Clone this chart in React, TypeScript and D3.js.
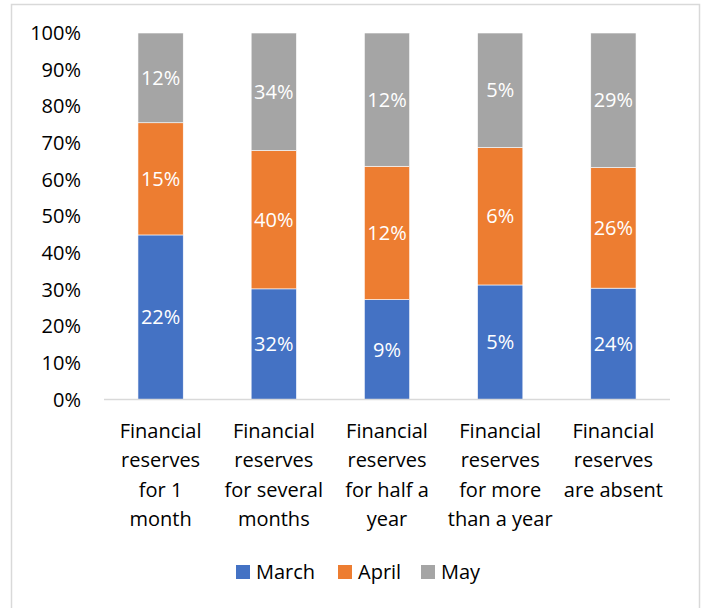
import React, { useEffect, useRef } from 'react';
import * as d3 from 'd3';

const categories = [
  ['Financial', 'reserves', 'for 1', 'month'],
  ['Financial', 'reserves', 'for several', 'months'],
  ['Financial', 'reserves', 'for half a', 'year'],
  ['Financial', 'reserves', 'for more', 'than a year'],
  ['Financial', 'reserves', 'are absent'],
];
const march = [22, 32, 9, 5, 24];
const april = [15, 40, 12, 6, 26];
const may = [12, 34, 12, 5, 29];
const seriesNames = ['March', 'April', 'May'];
const colors = ['#4472C4', '#ED7D31', '#A5A5A5'];
const yTicks = [0, 0.1, 0.2, 0.3, 0.4, 0.5, 0.6, 0.7, 0.8, 0.9, 1];

const App = () => {
  const width = 706,
    height = 608,
    margin = { left: 104, top: 33, bottom: 208.5, right: 36 };
  const svgRef = useRef<SVGSVGElement>(null);
  const font = "'Open Sans', sans-serif";
  const fs = 20;

  useEffect(() => {
    const svg = d3.select(svgRef.current);
    svg.selectAll('*').remove();

    const rows = categories.map((c, i) => ({ i, March: march[i], April: april[i], May: may[i] }));
    const stacked = d3.stack<any>().keys(seriesNames).offset(d3.stackOffsetExpand)(rows);

    const x = d3.scaleBand<number>()
      .domain(d3.range(categories.length))
      .range([margin.left, width - margin.right])
      .paddingInner(0.6).paddingOuter(0.3);
    const y = d3.scaleLinear().domain([0, 1]).range([height - margin.bottom, margin.top]);

    // chart border
    svg.append('rect')
      .attr('x', 11.5).attr('y', 4.5)
      .attr('width', 688).attr('height', 610)
      .attr('fill', 'white').attr('stroke', '#d9d9d9').attr('stroke-width', 1.5);

    // y axis labels
    svg.append('g')
      .attr('font-family', font).attr('font-size', fs).attr('fill', '#000')
      .attr('text-anchor', 'end')
      .selectAll('text')
      .data(yTicks)
      .join('text')
      .attr('x', 81)
      .attr('y', d => y(d))
      .attr('dy', '0.35em')
      .text(d => d3.format('.0%')(d));

    // bars
    const layer = svg.append('g')
      .selectAll('g')
      .data(stacked)
      .join('g')
      .attr('fill', (d, i) => colors[i]);
    layer.selectAll('rect')
      .data(d => d)
      .join('rect')
      .attr('x', (d: any) => x(d.data.i)!)
      .attr('width', x.bandwidth())
      .attr('y', d => y(d[1]))
      .attr('height', d => y(d[0]) - y(d[1]))
      .attr('stroke', 'white').attr('stroke-width', 0.6);

    // data labels
    const labels = svg.append('g')
      .attr('font-family', font).attr('font-size', fs).attr('fill', 'white')
      .attr('text-anchor', 'middle');
    stacked.forEach(s => {
      labels.append('g')
        .selectAll('text')
        .data(s)
        .join('text')
        .attr('x', (d: any) => x(d.data.i)! + x.bandwidth() / 2)
        .attr('y', d => (y(d[0]) + y(d[1])) / 2)
        .attr('dy', '0.35em')
        .text((d: any) => d.data[s.key] + '%');
    });

    // x axis line
    svg.append('line')
      .attr('x1', margin.left).attr('x2', width - margin.right)
      .attr('y1', y(0)).attr('y2', y(0))
      .attr('stroke', '#d9d9d9').attr('stroke-width', 1.5);

    // category labels
    svg.append('g')
      .attr('font-family', font).attr('font-size', fs).attr('fill', '#000')
      .attr('text-anchor', 'middle')
      .selectAll('text')
      .data(categories)
      .join('text')
      .attr('x', (d, i) => x(i)! + x.bandwidth() / 2)
      .attr('y', 438)
      .selectAll('tspan')
      .data(d => d)
      .join('tspan')
      .attr('x', function () { return (this.parentNode as SVGTextElement).getAttribute('x'); })
      .attr('dy', (d, i) => (i === 0 ? 0 : 29.3))
      .text(d => d);

    // legend
    const legendX = [236, 338, 421];
    const legend = svg.append('g')
      .selectAll('g')
      .data(seriesNames)
      .join('g')
      .attr('transform', (d, i) => `translate(${legendX[i]},565)`);
    legend.append('rect')
      .attr('width', 14).attr('height', 14)
      .attr('fill', (d, i) => colors[i]);
    legend.append('text')
      .attr('x', 20).attr('y', 7).attr('dy', '0.35em')
      .attr('font-family', font).attr('font-size', fs).attr('fill', '#000')
      .text(d => d);
  }, []);

  return (
    <svg ref={svgRef} width={width} height={height}
      style={{ position: 'absolute', left: 0, top: 0 }}></svg>
  );
};

export default App;
